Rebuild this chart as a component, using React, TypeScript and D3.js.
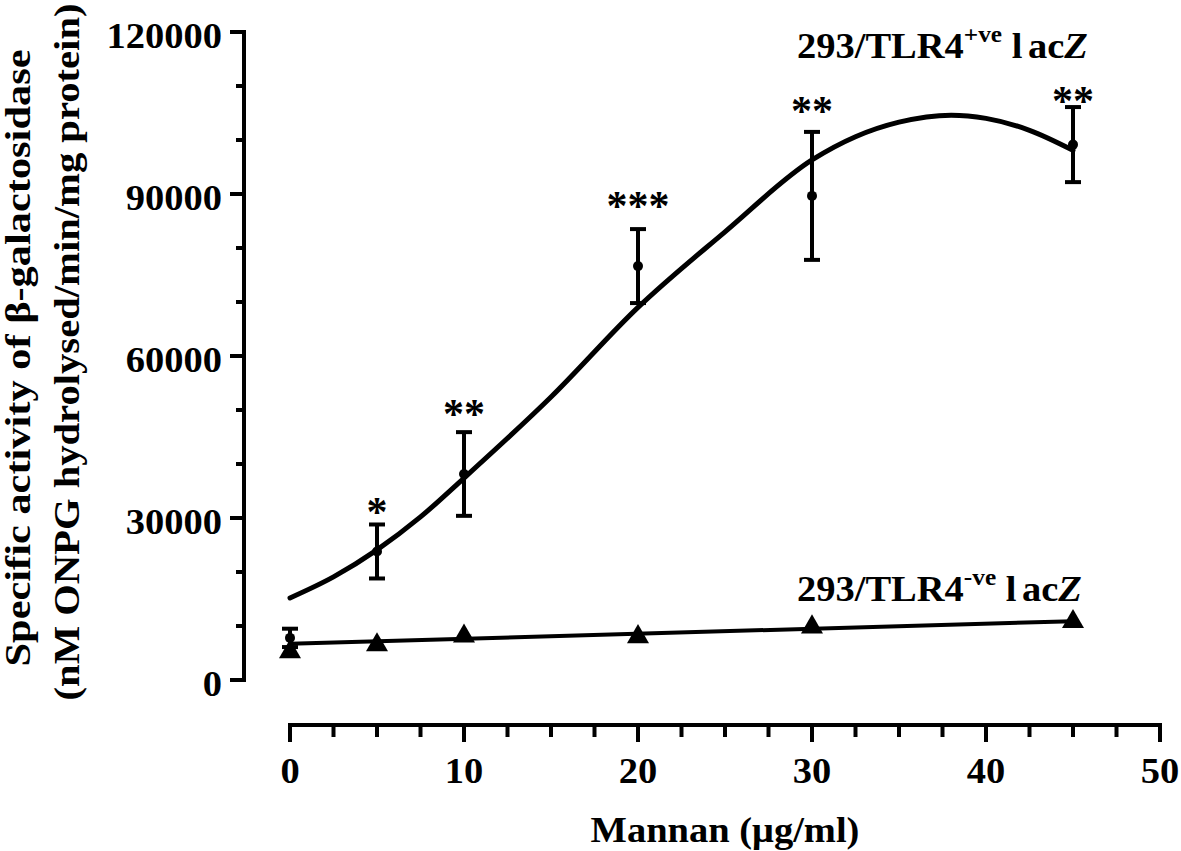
import React from 'react';
import * as d3 from 'd3';

const doses = [0, 5, 10, 20, 30, 45];
const posMean = [7800, 23800, 38150, 76650, 89650, 99150];
const posErr = [1700, 5000, 7750, 6850, 11850, 6950];
const negMean = [5200, 6500, 8100, 8000, 9800, 10800];
const sigLabels = ['', '*', '**', '***', '**', '**'];
const sigY = [0, 32200, 50400, 88900, 106500, 108300];

const fitX = [0, 2.5, 5, 7.5, 10, 15, 20, 25, 30, 32.5, 35, 38, 40, 42.5, 45];
const fitPos = [15200, 19100, 24100, 30200, 37400, 52400, 69000, 83000, 96300, 100600, 103300, 104600, 104000, 101800, 98100];
const fitNegX = [0, 45];
const fitNeg = [6700, 10900];

const xTicks = [0, 10, 20, 30, 40, 50];
const xMinor = d3.range(0, 50.01, 2.5);
const yTicks = [0, 30000, 60000, 90000, 120000];
const yMinor = d3.range(0, 120001, 10000);

const W = 1181;
const H = 851;
const FONT = '"Liberation Serif", "Times New Roman", serif';

const x = d3.scaleLinear().domain([0, 50]).range([290, 1160]);
const y = d3.scaleLinear().domain([0, 120000]).range([680, 32]);

const SX = 1.1;

function HText({ x: tx, y: ty, anchor = 'start', size = 35, children }: any) {
  return (
    <g transform={`translate(${tx},${ty}) scale(${SX},1)`}>
      <text x={0} y={0} textAnchor={anchor} fontFamily={FONT} fontWeight="bold" fontSize={size} fill="#000">
        {children}
      </text>
    </g>
  );
}

export default function App() {
  const fitLine = d3
    .line<number>()
    .x((d, i) => x(fitX[i]))
    .y((d) => y(d))
    .curve(d3.curveMonotoneX);
  const negLine = d3
    .line<number>()
    .x((d, i) => x(fitNegX[i]))
    .y((d) => y(d));
  const tri = d3.symbol().type(d3.symbolTriangle).size(210)();
  const axisX = 244;
  const axisY = 725;

  return (
    <div style={{ position: 'absolute', left: 0, top: 0 }}>
      <svg width={W} height={H} viewBox={`0 0 ${W} ${H}`} style={{ display: 'block', background: '#fff' }}>
        {/* Y axis */}
        <line x1={axisX} x2={axisX} y1={y(120000) - 2} y2={y(0) + 2} stroke="#000" strokeWidth={4} />
        {yMinor.map((v) => {
          const major = yTicks.includes(v);
          return (
            <line key={'ym' + v} x1={major ? 230 : 236} x2={axisX} y1={y(v)} y2={y(v)} stroke="#000" strokeWidth={4} />
          );
        })}
        {yTicks.map((v) => (
          <HText key={'yl' + v} x={222} y={y(v) + 16} anchor="end">
            {String(v)}
          </HText>
        ))}

        {/* X axis */}
        <line x1={x(0) - 2} x2={x(50) + 2} y1={axisY} y2={axisY} stroke="#000" strokeWidth={4} />
        {xMinor.map((v) => {
          const major = xTicks.includes(v);
          return (
            <line key={'xm' + v} x1={x(v)} x2={x(v)} y1={axisY} y2={major ? 742 : 737} stroke="#000" strokeWidth={4} />
          );
        })}
        {xTicks.map((v) => (
          <HText key={'xl' + v} x={x(v)} y={783} anchor="middle">
            {String(v)}
          </HText>
        ))}
        <HText x={725} y={842} anchor="middle">
          Mannan (μg/ml)
        </HText>

        {/* Y title */}
        <g transform={`translate(30,358) rotate(-90)`}>
          <text textAnchor="middle" fontFamily={FONT} fontWeight="bold" fontSize={35} textLength={617} lengthAdjust="spacingAndGlyphs">
            Specific activity of β-galactosidase
          </text>
        </g>
        <g transform={`translate(79,352) rotate(-90)`}>
          <text textAnchor="middle" fontFamily={FONT} fontWeight="bold" fontSize={35} textLength={697} lengthAdjust="spacingAndGlyphs">
            (nM ONPG hydrolysed/min/mg protein)
          </text>
        </g>

        {/* fitted curves */}
        <path d={fitLine(fitPos) || ''} fill="none" stroke="#000" strokeWidth={5} strokeLinecap="round" />
        <path d={negLine(fitNeg) || ''} fill="none" stroke="#000" strokeWidth={4} />

        {/* TLR4-ve triangles */}
        {doses.map((d, i) => (
          <path key={'t' + i} d={tri || ''} transform={`translate(${x(d)},${y(negMean[i])})`} fill="#000" />
        ))}

        {/* TLR4+ve points with error bars */}
        {doses.map((d, i) => {
          const cx = x(d);
          const top = y(posMean[i] + posErr[i]);
          const bot = y(posMean[i] - posErr[i]);
          return (
            <g key={'p' + i}>
              <line x1={cx} x2={cx} y1={top} y2={bot} stroke="#000" strokeWidth={4} />
              <line x1={cx - 8} x2={cx + 8} y1={top} y2={top} stroke="#000" strokeWidth={4} />
              <line x1={cx - 8} x2={cx + 8} y1={bot} y2={bot} stroke="#000" strokeWidth={4} />
              <circle cx={cx} cy={y(posMean[i])} r={5} fill="#000" />
            </g>
          );
        })}

        {/* significance */}
        {doses.map((d, i) =>
          sigLabels[i] ? (
            <text key={'s' + i} x={x(d)} y={y(sigY[i]) + 20} textAnchor="middle" fontFamily={FONT} fontWeight="bold" fontSize={42}>
              {sigLabels[i]}
            </text>
          ) : null
        )}

        {/* series labels */}
        <HText x={797} y={58}>
          293/TLR4
          <tspan dy={-16} fontSize={23}>+ve</tspan>
          <tspan dy={16}> l</tspan>
          <tspan dx={5}>ac</tspan>
          <tspan fontStyle="italic">Z</tspan>
        </HText>
        <HText x={797} y={601}>
          293/TLR4
          <tspan dy={-16} fontSize={23}>-ve</tspan>
          <tspan dy={16}> l</tspan>
          <tspan dx={5}>ac</tspan>
          <tspan fontStyle="italic">Z</tspan>
        </HText>
      </svg>
    </div>
  );
}
